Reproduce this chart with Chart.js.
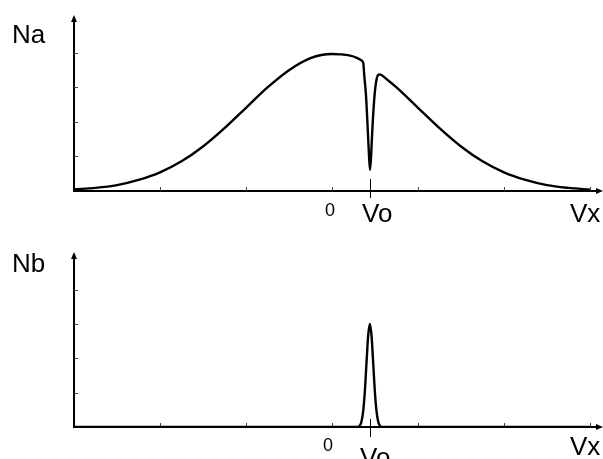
<!DOCTYPE html>
<html>
<head>
<meta charset="utf-8">
<script src="https://cdn.jsdelivr.net/npm/chart.js@4"></script>
<style>
  body { margin: 0; background: #fff; }
  canvas { display: block; }
</style>
</head>
<body>
<canvas id="chartA" width="603" height="229"></canvas>
<canvas id="chartB" width="603" height="230"></canvas>
<script>
// velocity axis, one tick = 1 unit, 0 in the middle
const xTicks = [-2, -1, 0, 1, 2, 3];
const yTicks = [1, 2, 3, 4];
const vo = 0.44;

// Na: broad distribution with a narrow hole at Vo
const xA = [-3, -2.75, -2.5, -2.25, -2, -1.75, -1.5, -1.25, -1, -0.75, -0.5, -0.25, 0, 0.1, 0.2, 0.29, 0.345,
            0.364, 0.375, 0.395, 0.415, 0.43, 0.442, 0.455, 0.47, 0.495, 0.522, 0.55,
            0.65, 0.75, 1, 1.25, 1.5, 1.75, 2, 2.25, 2.5, 2.75, 3];
const na = [0.05, 0.09, 0.17, 0.32, 0.54, 0.86, 1.29, 1.82, 2.41, 3.0, 3.5, 3.85, 3.97, 3.96, 3.93, 3.86, 3.78,
            3.70, 3.35, 2.78, 1.82, 1.04, 0.61, 1.04, 1.83, 2.78, 3.28, 3.38,
            3.21, 3.0, 2.41, 1.82, 1.29, 0.86, 0.54, 0.32, 0.17, 0.09, 0.04];

// Nb: narrow peak at Vo
const xB = [-3, 0.3, 0.32, 0.34, 0.36, 0.38, 0.40, 0.42, 0.44, 0.46, 0.48, 0.50, 0.52, 0.54, 0.56, 0.58, 3];
const nb = [0, 0, 0.03, 0.13, 0.41, 0.97, 1.82, 2.65, 3.0, 2.65, 1.82, 0.97, 0.41, 0.13, 0.03, 0, 0];

const FONT = '"Liberation Sans", Arial, sans-serif';

function axesPlugin(cfg) {
    return {
        id: 'axes',
        beforeDatasetsDraw(chart) {
            const ctx = chart.ctx;
            const a = chart.chartArea;
            const xs = chart.scales.x, ys = chart.scales.y;
            const base = a.bottom;
            ctx.save();
            ctx.strokeStyle = '#000';
            ctx.fillStyle = '#000';
            ctx.lineWidth = 2;
            ctx.beginPath();
            ctx.moveTo(a.left, base);
            ctx.lineTo(a.left, a.top + 6);
            ctx.moveTo(a.left - 1, base);
            ctx.lineTo(a.right - 6, base);
            ctx.stroke();
            // arrow heads
            ctx.beginPath();
            ctx.moveTo(a.left, a.top);
            ctx.lineTo(a.left - 3, a.top + 7);
            ctx.lineTo(a.left + 3, a.top + 7);
            ctx.closePath();
            ctx.fill();
            ctx.beginPath();
            ctx.moveTo(a.right, base);
            ctx.lineTo(a.right - 7, base - 3);
            ctx.lineTo(a.right - 7, base + 3);
            ctx.closePath();
            ctx.fill();
            // small inward ticks
            ctx.lineWidth = 1;
            ctx.strokeStyle = '#444';
            ctx.beginPath();
            xTicks.forEach(v => {
                const px = Math.round(xs.getPixelForValue(v)) + 0.5;
                ctx.moveTo(px, base);
                ctx.lineTo(px, base - 4);
            });
            yTicks.forEach(v => {
                const py = Math.round(ys.getPixelForValue(v)) + 0.5;
                ctx.moveTo(a.left, py);
                ctx.lineTo(a.left + 4, py);
            });
            ctx.stroke();
            // Vo marker
            ctx.strokeStyle = '#000';
            ctx.beginPath();
            const pv = Math.round(xs.getPixelForValue(vo)) + 0.5;
            ctx.moveTo(pv, base + cfg.voTick[0]);
            ctx.lineTo(pv, base + cfg.voTick[1]);
            ctx.stroke();
            ctx.restore();
        },
        afterDraw(chart) {
            const ctx = chart.ctx;
            ctx.save();
            ctx.fillStyle = '#000';
            ctx.textAlign = 'left';
            ctx.textBaseline = 'alphabetic';
            cfg.labels.forEach(l => {
                ctx.font = l.size + 'px ' + FONT;
                ctx.fillText(l.text, l.x, l.y);
            });
            ctx.restore();
        }
    };
}

function makeChart(id, xs, ys, pad, cfg) {
    const ctx = document.getElementById(id).getContext('2d');
    return new Chart(ctx, {
        type: 'line',
        data: {
            datasets: [{
                data: xs.map((x, i) => ({ x: x, y: ys[i] })),
                borderColor: '#000',
                borderWidth: 2.4,
                pointRadius: 0,
                fill: false,
                cubicInterpolationMode: 'monotone'
            }]
        },
        options: {
            responsive: false,
            animation: false,
            layout: { padding: pad },
            plugins: {
                legend: { display: false },
                tooltip: { enabled: false }
            },
            scales: {
                x: { type: 'linear', min: -3, max: 3.151, display: false },
                y: { min: 0, max: 5.1, display: false }
            }
        },
        plugins: [axesPlugin(cfg)]
    });
}

makeChart('chartA', xA, na, { left: 74, right: 0, top: 15, bottom: 38 }, {
    voTick: [-12, 7],
    labels: [
        { text: 'Na', x: 12, y: 43, size: 26 },
        { text: '0', x: 325, y: 216, size: 18 },
        { text: 'Vo', x: 362, y: 222, size: 26 },
        { text: 'Vx', x: 570, y: 222, size: 26 }
    ]
});

makeChart('chartB', xB, nb, { left: 74, right: 0, top: 23, bottom: 32 }, {
    voTick: [-8, 10],
    labels: [
        { text: 'Nb', x: 12, y: 43, size: 26 },
        { text: '0', x: 323, y: 222, size: 18 },
        { text: 'Vo', x: 360, y: 237, size: 26 },
        { text: 'Vx', x: 570, y: 226, size: 26 }
    ]
});
</script>
</body>
</html>
